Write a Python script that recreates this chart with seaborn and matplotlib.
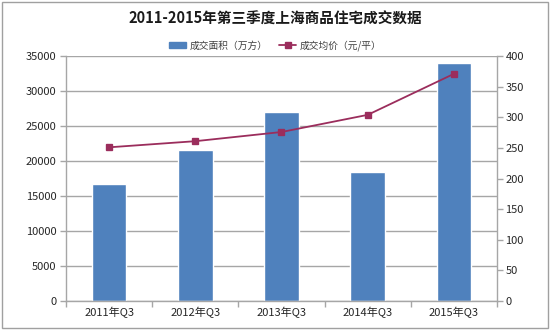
import matplotlib
matplotlib.use("Agg")
import matplotlib.pyplot as plt
import seaborn as sns
import pandas as pd
from matplotlib.lines import Line2D
from matplotlib.patches import Patch

categories = ["2011年Q3", "2012年Q3", "2013年Q3", "2014年Q3", "2015年Q3"]
area = [16700, 21600, 27000, 18500, 34000]
price = [251, 261, 276, 304, 371]
left_ticks = [0, 5000, 10000, 15000, 20000, 25000, 30000, 35000]
right_ticks = [0, 50, 100, 150, 200, 250, 300, 350, 400]

sns.set_theme(style="white")
plt.rcParams['font.family'] = ['Noto Sans CJK SC', 'DejaVu Sans']

bar_color = "#4F81BD"
line_color = "#9B2D5C"
grid_color = "#A6A6A6"
text_color = "#262626"

df = pd.DataFrame({"cat": categories, "area": area, "price": price})

fig = plt.figure(figsize=(5.5, 3.3), dpi=100)
ax = fig.add_axes([0.12, 0.088, 0.7836, 0.742])

sns.barplot(data=df, x="cat", y="area", color=bar_color, width=0.4,
            saturation=1, ax=ax, zorder=2)
ax.set_ylim(0, 35000)
ax.set_yticks(left_ticks)
ax.set_xlim(-0.5, 4.5)
ax.yaxis.grid(True, color=grid_color, linewidth=1, zorder=0)
ax.set_axisbelow(True)
ax.set_xlabel("")
ax.set_ylabel("")
for s in ["top", "right"]:
    ax.spines[s].set_visible(False)
for s in ["left", "bottom"]:
    ax.spines[s].set_color(grid_color)
    ax.spines[s].set_linewidth(1)
ax.tick_params(axis="y", labelsize=8, colors=text_color, length=4, width=1,
               color=grid_color, left=True, pad=3)
ax.tick_params(axis="x", labelsize=8, colors=text_color, length=0, pad=4)
ax.set_xticks([-0.5, 0.5, 1.5, 2.5, 3.5, 4.5], minor=True)
ax.tick_params(axis="x", which="minor", length=4, width=1, color=grid_color,
               bottom=True)

ax2 = ax.twinx()
sns.pointplot(data=df, x="cat", y="price", color=line_color, markers="s",
              linewidth=1.3, markersize=5, ax=ax2)
ax2.set_ylim(0, 400)
ax2.set_yticks(right_ticks)
ax2.set_xlim(-0.5, 4.5)
ax2.set_ylabel("")
ax2.set_xlabel("")
for s in ["top", "left", "bottom"]:
    ax2.spines[s].set_visible(False)
ax2.spines["right"].set_color(grid_color)
ax2.spines["right"].set_linewidth(1)
ax2.tick_params(axis="y", labelsize=8, colors=text_color, length=4, width=1,
                color=grid_color, right=True, pad=2)

fig.text(0.5, 0.943, "2011-2015年第三季度上海商品住宅成交数据", ha="center",
         va="center", fontsize=10.5, fontweight="bold", color="#1a1a1a")

handles = [Patch(facecolor=bar_color, edgecolor=bar_color),
           Line2D([0], [0], color=line_color, marker="s", markersize=5, linewidth=1.3)]
fig.legend(handles, ["成交面积（万方）", "成交均价（元/平）"], loc="center",
           bbox_to_anchor=(0.5, 0.862), ncol=2, frameon=False, fontsize=7,
           handlelength=1.8, handletextpad=0.3, columnspacing=1.2,
           labelcolor="#404040")

border = plt.Rectangle((0.004, 0.006), 0.992, 0.988, transform=fig.transFigure,
                       fill=False, edgecolor="#A0A0A0", linewidth=1)
fig.patches.append(border)

fig.savefig("out.png", dpi=100)
